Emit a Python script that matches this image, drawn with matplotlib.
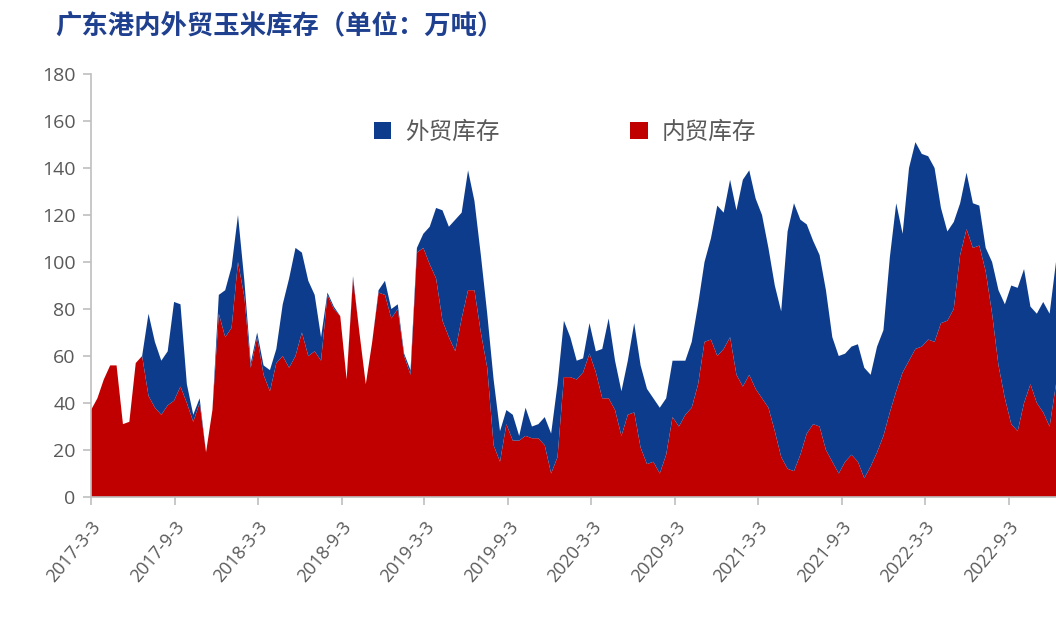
import matplotlib
matplotlib.use("Agg")
import matplotlib.pyplot as plt
from matplotlib.patches import Patch
import pandas as pd

plt.rcParams['font.family'] = ['Noto Sans CJK SC', 'DejaVu Sans']

start_date = '2017-03-03'
n_points = 152
step = '14D'

# 内贸库存 (万吨)
domestic = [37, 42, 50, 56, 56, 31, 32, 57, 60, 43,
            38, 35, 39, 41, 47, 40, 32, 40, 19, 37,
            78, 68, 72, 100, 85, 55, 68, 52, 45, 57,
            60, 55, 60, 70, 60, 62, 58, 86, 80, 77,
            50, 93, 70, 48, 66, 87, 86, 76, 80, 60,
            52, 104, 106, 99, 93, 75, 68, 62, 76, 88,
            88, 70, 55, 22, 15, 31, 24, 24, 26, 25,
            25, 22, 10, 17, 51, 51, 50, 53, 61, 53,
            42, 42, 37, 26, 35, 36, 21, 14, 15, 10,
            18, 34, 30, 35, 38, 48, 66, 67, 60, 63,
            68, 52, 47, 52, 46, 42, 38, 28, 17, 12,
            11, 18, 27, 31, 30, 20, 15, 10, 15, 18,
            15, 8, 13, 19, 26, 36, 45, 53, 58, 63,
            64, 67, 66, 74, 75, 80, 103, 114, 106, 107,
            96, 78, 56, 42, 31, 28, 40, 48, 40, 36,
            30, 48]

# 外贸库存 (万吨)
foreign = [0, 0, 0, 0, 0, 0, 0, 0, 0, 35,
           28, 23, 23, 42, 35, 8, 3, 2, 0, 0,
           8, 20, 26, 20, 7, 2, 2, 4, 9, 6,
           22, 38, 46, 34, 32, 24, 10, 1, 1, 0,
           0, 1, 0, 0, 0, 1, 6, 4, 2, 1,
           2, 2, 6, 16, 30, 47, 47, 56, 45, 51,
           38, 33, 23, 28, 13, 6, 11, 2, 12, 5,
           6, 12, 17, 31, 24, 17, 8, 6, 13, 9,
           21, 34, 21, 19, 23, 38, 35, 32, 27, 28,
           24, 24, 28, 23, 28, 34, 34, 43, 64, 58,
           67, 70, 88, 87, 81, 78, 68, 62, 62, 101,
           114, 100, 89, 78, 73, 68, 53, 50, 46, 46,
           50, 47, 39, 45, 45, 66, 80, 59, 82, 88,
           82, 78, 74, 49, 38, 37, 22, 24, 19, 17,
           10, 22, 32, 40, 59, 61, 57, 33, 38, 47,
           48, 52]

tick_dates = ['2017-03-03', '2017-09-03', '2018-03-03', '2018-09-03',
              '2019-03-03', '2019-09-03', '2020-03-03', '2020-09-03',
              '2021-03-03', '2021-09-03', '2022-03-03', '2022-09-03']
y_ticks = [0, 20, 40, 60, 80, 100, 120, 140, 160, 180]

title = '广东港内外贸玉米库存（单位：万吨）'
label_foreign = '外贸库存'
label_domestic = '内贸库存'

red = '#C00000'
blue = '#0E3C8C'
gray = '#595959'
spine_c = '#BFBFBF'

dates = pd.date_range(start_date, periods=n_points, freq=step)
W, H = 1056, 624
fig = plt.figure(figsize=(W / 100, H / 100), dpi=100)
ax = fig.add_axes([91 / W, (H - 497) / H, (W - 91) / W, (497 - 74) / H])

ax.stackplot(dates, domestic, foreign, colors=[red, blue], linewidth=0)

ax.set_xlim(dates[0], dates[-1])
ax.set_ylim(0, 180)
ax.set_yticks(y_ticks)
ax.set_yticklabels([str(v) for v in y_ticks], fontsize=14, color=gray,
                   family=['Open Sans', 'DejaVu Sans'])
td = pd.to_datetime(tick_dates)
ax.set_xticks(td)
ax.set_xticklabels([f'{d.year}-{d.month}-{d.day}' for d in td], rotation=50,
                   ha='right', va='top', fontsize=13, color=gray,
                   family=['Open Sans', 'DejaVu Sans'], rotation_mode='anchor')

for s in ['top', 'right']:
    ax.spines[s].set_visible(False)
for s in ['left', 'bottom']:
    ax.spines[s].set_color(spine_c)
    ax.spines[s].set_linewidth(1.2)
ax.tick_params(axis='both', colors=spine_c, length=6, width=1.2, direction='out')
ax.tick_params(axis='x', pad=9)
ax.tick_params(axis='y', pad=5)
for lbl in ax.get_xticklabels() + ax.get_yticklabels():
    lbl.set_color(gray)

handles = [Patch(facecolor=blue, edgecolor='none', label=label_foreign),
           Patch(facecolor=red, edgecolor='none', label=label_domestic)]
leg = ax.legend(handles=handles, loc='center', ncol=2, frameon=False,
                bbox_to_anchor=((565 - 91) / (W - 91), (497 - 132) / (497 - 74)),
                fontsize=17, handlelength=0.75, handleheight=0.75,
                handletextpad=0.6, columnspacing=5.5)
for t in leg.get_texts():
    t.set_color(gray)

fig.text(55 / W, 1 - 27 / H, title, fontsize=19, fontweight='bold',
         color='#1F3F8F', ha='left', va='center')

fig.savefig('out.png', dpi=100)
